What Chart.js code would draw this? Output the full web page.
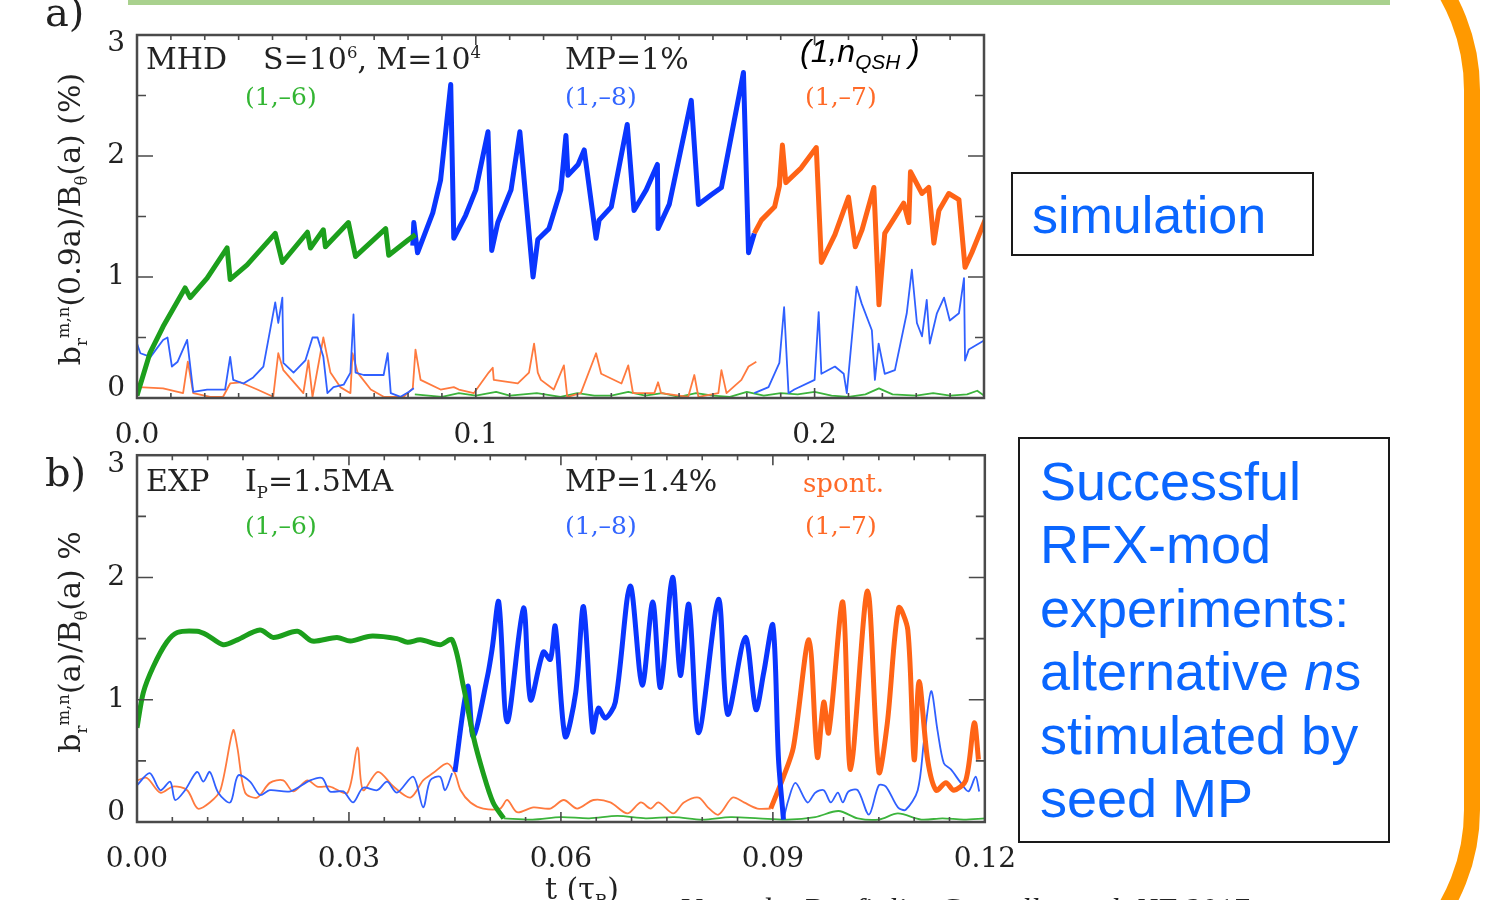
<!DOCTYPE html>
<html>
<head>
<meta charset="utf-8">
<script src="https://cdn.jsdelivr.net/npm/chart.js@4.4.1/dist/chart.umd.min.js"></script>
<style>
  html, body { margin: 0; padding: 0; background: #fff; width: 1488px; height: 900px; overflow: hidden; position: relative; }
  .t { position: absolute; white-space: nowrap; line-height: 1; font-family: 'DejaVu Serif', serif; color: #222; }
  .blk { font-size: 30px; }
  .lbl { font-size: 25px; }
  .g { color: #33b533; } .b { color: #3366ff; } .o { color: #ff6a28; }
  .ytitle { position: absolute; white-space: nowrap; line-height: 1; font-family: 'DejaVu Serif', serif; font-size: 30px; color: #222;
            transform: translate(-50%, -50%) rotate(-90deg); }
  sup, sub { font-size: 55%; line-height: 0; }
  .box { position: absolute; box-sizing: border-box; border: 2px solid #1a1a1a; background: #fff; }
  .note { position: absolute; font-family: 'Liberation Sans', Arial, sans-serif; color: #0a66ff; white-space: nowrap; }
</style>
</head>
<body>

<div style="position:absolute;left:128px;top:0;width:1262px;height:5px;background:#a9d18e"></div>
<div style="position:absolute;left:-120px;top:-110px;width:1600px;height:1120px;box-sizing:border-box;border:16px solid #ff9900;border-radius:200px"></div>

<canvas id="chartA" width="1014" height="450" style="position:absolute;left:0;top:0"></canvas>
<canvas id="chartB" width="1037" height="475" style="position:absolute;left:0;top:425px"></canvas>

<!-- panel a texts -->
<div class="t" style="left:45px;top:-8px;font-size:40px">a)</div>
<div class="ytitle" style="left:70px;top:219px">b<sub>r</sub><sup>m,n</sup>(0.9a)/B<sub>θ</sub>(a) (%)</div>
<div class="t blk" style="left:146px;top:44px">MHD</div>
<div class="t blk" style="left:263px;top:44px">S=10<sup>6</sup>, M=10<sup>4</sup></div>
<div class="t blk" style="left:565px;top:44px">MP=1%</div>
<div class="t" style="left:800px;top:35px;font-family:'Liberation Sans',sans-serif;font-style:italic;font-size:32px;color:#000">(1,n<sub style="font-size:65%">QSH</sub> )</div>
<div class="t lbl g" style="left:245px;top:84px">(1,–6)</div>
<div class="t lbl b" style="left:565px;top:84px">(1,–8)</div>
<div class="t lbl o" style="left:805px;top:84px">(1,–7)</div>

<!-- panel b texts -->
<div class="t" style="left:45px;top:452px;font-size:40px">b)</div>
<div class="ytitle" style="left:70px;top:642px">b<sub>r</sub><sup>m,n</sup>(a)/B<sub>θ</sub>(a) %</div>
<div class="t blk" style="left:146px;top:466px">EXP</div>
<div class="t blk" style="left:245px;top:466px">I<sub>P</sub>=1.5MA</div>
<div class="t blk" style="left:565px;top:466px">MP=1.4%</div>
<div class="t o" style="left:803px;top:470px;font-size:26px">spont.</div>
<div class="t lbl g" style="left:245px;top:513px">(1,–6)</div>
<div class="t lbl b" style="left:565px;top:513px">(1,–8)</div>
<div class="t lbl o" style="left:805px;top:513px">(1,–7)</div>

<div class="t" style="left:545px;top:874px;font-size:30px">t (τ<sub>R</sub>)</div>
<div class="t" style="left:680px;top:893px;font-size:32px;font-family:'Liberation Serif',serif;font-style:italic">Veranda, Bonfiglio, Cappello et al. NF 2017</div>

<!-- right-hand notes -->
<div class="box" style="left:1011px;top:172px;width:303px;height:84px"></div>
<div class="note" style="left:1032px;top:189px;font-size:52px;line-height:1">simulation</div>
<div class="box" style="left:1018px;top:437px;width:372px;height:406px"></div>
<div class="note" style="left:1040px;top:450px;font-size:54px;line-height:63.4px">Successful<br>RFX-mod<br>experiments:<br>alternative <i>n</i>s<br>stimulated by<br>seed MP</div>

<script>
'use strict';

// ── Panel a (MHD simulation), t in tau_R, amplitude in % ─────────────────────
const aGreenThickT = [0, 0.0038, 0.0077, 0.0142, 0.0157, 0.0207, 0.0266, 0.0275, 0.0325, 0.0408, 0.0429, 0.0503, 0.0512, 0.055, 0.0556, 0.0624, 0.0645, 0.0734, 0.0743, 0.0802, 0.0822];
const aGreenThickV = [0.02, 0.37, 0.59, 0.91, 0.83, 0.99, 1.24, 0.98, 1.10, 1.36, 1.12, 1.37, 1.24, 1.39, 1.25, 1.45, 1.17, 1.40, 1.18, 1.31, 1.35];

const aGreenThinT = [0.082, 0.09, 0.095, 0.1, 0.106, 0.11, 0.118, 0.125, 0.13, 0.135, 0.14, 0.145, 0.15, 0.155, 0.16, 0.165, 0.17, 0.175, 0.18, 0.185, 0.19, 0.195, 0.2, 0.205, 0.21, 0.215, 0.219, 0.223, 0.23, 0.235, 0.24, 0.245, 0.248, 0.25];
const aGreenThinV = [0.03, 0.01, 0.04, 0.02, 0.05, 0.02, 0.04, 0.01, 0.04, 0.02, 0.02, 0.05, 0.02, 0.04, 0.01, 0.04, 0.02, 0.01, 0.05, 0.02, 0.04, 0.03, 0.05, 0.02, 0.01, 0.03, 0.08, 0.03, 0.02, 0.04, 0.02, 0.03, 0.06, 0.02];

const aBlueThin1T = [0, 0.001, 0.004, 0.0077, 0.009, 0.0103, 0.012, 0.0148, 0.0166, 0.0207, 0.026, 0.0275, 0.0284, 0.0314, 0.0343, 0.0373, 0.0408, 0.0417, 0.0429, 0.0432, 0.0462, 0.0497, 0.0518, 0.0533, 0.055, 0.0562, 0.058, 0.061, 0.063, 0.0639, 0.0645, 0.0669, 0.0728, 0.074, 0.0749, 0.0778, 0.0802, 0.0817];
const aBlueThin1V = [0.45, 0.37, 0.34, 0.48, 0.5, 0.26, 0.3, 0.48, 0.05, 0.07, 0.07, 0.34, 0.15, 0.12, 0.17, 0.26, 0.79, 0.62, 0.83, 0.29, 0.21, 0.31, 0.5, 0.5, 0.34, 0.04, 0.09, 0.11, 0.21, 0.69, 0.21, 0.19, 0.19, 0.37, 0.04, 0.01, 0.05, 0.08];

const aBlueThickT = [0.0814, 0.0817, 0.0828, 0.0873, 0.0896, 0.0926, 0.0935, 0.097, 0.1, 0.1036, 0.1047, 0.1065, 0.1104, 0.113, 0.1148, 0.1169, 0.1183, 0.1216, 0.1251, 0.1266, 0.1272, 0.1302, 0.132, 0.1355, 0.1364, 0.14, 0.1447, 0.1467, 0.1503, 0.1536, 0.1538, 0.1571, 0.1636, 0.1657, 0.1695, 0.1725, 0.179, 0.1805, 0.1822];
const aBlueThickV = [1.26, 1.45, 1.2, 1.53, 1.8, 2.59, 1.32, 1.51, 1.72, 2.2, 1.22, 1.45, 1.72, 2.2, 1.64, 1.0, 1.31, 1.40, 1.72, 2.17, 1.84, 1.93, 2.05, 1.32, 1.47, 1.58, 2.26, 1.55, 1.72, 1.93, 1.40, 1.6, 2.46, 1.6, 1.68, 1.74, 2.69, 1.2, 1.36];

const aBlueThin2T = [0.1822, 0.1864, 0.1896, 0.191, 0.1923, 0.194, 0.2, 0.2012, 0.202, 0.206, 0.2086, 0.2095, 0.2124, 0.2139, 0.2169, 0.2178, 0.2189, 0.2207, 0.2237, 0.2272, 0.2287, 0.2302, 0.2317, 0.2331, 0.234, 0.2361, 0.2382, 0.2399, 0.2426, 0.2441, 0.2444, 0.2455, 0.2503];
const aBlueThin2V = [0.04, 0.09, 0.29, 0.75, 0.04, 0.07, 0.15, 0.71, 0.2, 0.26, 0.2, 0.04, 0.92, 0.78, 0.56, 0.15, 0.45, 0.2, 0.23, 0.70, 1.06, 0.62, 0.51, 0.81, 0.45, 0.70, 0.83, 0.64, 0.70, 0.99, 0.31, 0.40, 0.48];

const aOrangeThinT = [0, 0.0005, 0.0077, 0.0136, 0.015, 0.0166, 0.0216, 0.0254, 0.0275, 0.0305, 0.0355, 0.0402, 0.0417, 0.0432, 0.0491, 0.0506, 0.0518, 0.055, 0.0571, 0.06, 0.063, 0.0636, 0.0651, 0.069, 0.0728, 0.0787, 0.0814, 0.0822, 0.0837, 0.0896, 0.0935, 0.095, 0.0994, 0.1038, 0.105, 0.1053, 0.1124, 0.1157, 0.1172, 0.1183, 0.1192, 0.123, 0.126, 0.127, 0.131, 0.1355, 0.137, 0.143, 0.145, 0.1464, 0.1527, 0.1538, 0.1547, 0.1627, 0.1645, 0.1657, 0.1716, 0.1725, 0.174, 0.1784, 0.1805, 0.1828];
const aOrangeThinV = [0.15, 0.09, 0.08, 0.04, 0.3, 0.04, 0.01, 0.01, 0.12, 0.13, 0.07, 0.01, 0.37, 0.23, 0.04, 0.31, 0.01, 0.5, 0.21, 0.09, 0.04, 0.37, 0.21, 0.07, 0.01, 0.01, 0.08, 0.4, 0.15, 0.07, 0.09, 0.07, 0.04, 0.21, 0.25, 0.15, 0.12, 0.21, 0.45, 0.21, 0.15, 0.07, 0.27, 0.01, 0.04, 0.37, 0.2, 0.12, 0.27, 0.04, 0.04, 0.13, 0.04, 0.01, 0.19, 0.01, 0.04, 0.23, 0.04, 0.15, 0.26, 0.3];

const aOrangeThickT = [0.1822, 0.1843, 0.1882, 0.1896, 0.1905, 0.1915, 0.196, 0.2005, 0.202, 0.206, 0.21, 0.212, 0.214, 0.2175, 0.219, 0.2207, 0.2263, 0.2278, 0.2283, 0.2317, 0.2337, 0.2352, 0.2367, 0.2396, 0.2426, 0.2444, 0.2464, 0.2503];
const aOrangeThickV = [1.36, 1.47, 1.58, 1.75, 2.09, 1.78, 1.9, 2.07, 1.12, 1.35, 1.66, 1.25, 1.39, 1.74, 0.77, 1.36, 1.61, 1.45, 1.87, 1.69, 1.74, 1.28, 1.55, 1.69, 1.64, 1.08, 1.2, 1.47];

// ── Panel b (RFX-mod experiment), t in tau_R, amplitude in % ─────────────────
const bGreenThickT = [0, 0.0009, 0.0023, 0.0042, 0.0057, 0.0085, 0.0099, 0.0122, 0.0142, 0.0174, 0.0193, 0.0227, 0.0248, 0.0283, 0.0302, 0.033, 0.0368, 0.0383, 0.0401, 0.0429, 0.0446, 0.0462, 0.0476, 0.049, 0.0504, 0.0519];
const bGreenThickV = [0.77, 1.06, 1.27, 1.47, 1.55, 1.56, 1.53, 1.45, 1.49, 1.57, 1.51, 1.56, 1.48, 1.51, 1.48, 1.52, 1.5, 1.47, 1.49, 1.45, 1.49, 1.11, 0.7, 0.4, 0.16, 0.03];

const bGreenThinT = [0.0519, 0.056, 0.06, 0.064, 0.068, 0.072, 0.076, 0.08, 0.084, 0.088, 0.092, 0.096, 0.0993, 0.102, 0.105, 0.1077, 0.111, 0.114, 0.117, 0.12];
const bGreenThinV = [0.03, 0.02, 0.04, 0.03, 0.05, 0.03, 0.04, 0.02, 0.04, 0.03, 0.02, 0.04, 0.09, 0.03, 0.02, 0.07, 0.02, 0.03, 0.02, 0.03];

const bBlueThin1T = [0, 0.0018, 0.0033, 0.0047, 0.0054, 0.0068, 0.0085, 0.0094, 0.0103, 0.0115, 0.0132, 0.0143, 0.016, 0.0174, 0.0188, 0.0217, 0.0245, 0.0262, 0.0273, 0.0292, 0.0306, 0.032, 0.034, 0.0354, 0.0368, 0.0391, 0.0405, 0.0415, 0.0429, 0.0436, 0.0446];
const bBlueThin1V = [0.3, 0.4, 0.26, 0.33, 0.18, 0.26, 0.41, 0.33, 0.41, 0.24, 0.16, 0.38, 0.33, 0.22, 0.26, 0.25, 0.34, 0.36, 0.25, 0.25, 0.16, 0.28, 0.26, 0.33, 0.24, 0.37, 0.12, 0.34, 0.37, 0.26, 0.40];

const bBlueThickT = [0.045, 0.0468, 0.0476, 0.0496, 0.0503, 0.0512, 0.0524, 0.0547, 0.0557, 0.0575, 0.0585, 0.0592, 0.0606, 0.0621, 0.0632, 0.0645, 0.0653, 0.0663, 0.0677, 0.0698, 0.0715, 0.073, 0.0741, 0.0758, 0.0769, 0.0781, 0.0795, 0.0823, 0.0836, 0.0861, 0.0876, 0.0887, 0.09, 0.0908, 0.0915];
const bBlueThickV = [0.41, 1.11, 0.7, 1.19, 1.43, 1.8, 0.82, 1.75, 1.0, 1.39, 1.33, 1.6, 0.7, 1.06, 1.76, 0.74, 0.93, 0.85, 0.98, 1.93, 1.12, 1.8, 1.1, 2.0, 1.2, 1.78, 0.73, 1.82, 0.88, 1.51, 0.92, 1.22, 1.61, 0.51, 0.02];

const bBlueThin2T = [0.0915, 0.0922, 0.0932, 0.0949, 0.096, 0.0972, 0.0982, 0.0992, 0.0999, 0.1007, 0.102, 0.1036, 0.105, 0.106, 0.1077, 0.1088, 0.1105, 0.1114, 0.1124, 0.1133, 0.1142, 0.1152, 0.1166, 0.1177, 0.1187, 0.1192];
const bBlueThin2V = [0.02, 0.18, 0.32, 0.16, 0.24, 0.26, 0.16, 0.24, 0.16, 0.25, 0.26, 0.06, 0.3, 0.29, 0.12, 0.1, 0.26, 0.67, 1.07, 0.75, 0.48, 0.43, 0.32, 0.25, 0.37, 0.25];

const bOrangeThinT = [0, 0.0014, 0.0033, 0.0051, 0.0071, 0.0086, 0.0103, 0.0118, 0.0136, 0.0142, 0.0153, 0.017, 0.0188, 0.0207, 0.0221, 0.0241, 0.0255, 0.0273, 0.0298, 0.0312, 0.032, 0.0341, 0.0363, 0.0387, 0.0405, 0.0419, 0.0439, 0.045, 0.0458, 0.0472, 0.049, 0.0514, 0.0524, 0.0538, 0.0561, 0.0585, 0.0604, 0.0623, 0.0646, 0.067, 0.0694, 0.0713, 0.0727, 0.0738, 0.0759, 0.0774, 0.0795, 0.0808, 0.0823, 0.0843, 0.0859, 0.0878, 0.0897];
const bOrangeThinV = [0.34, 0.36, 0.24, 0.29, 0.26, 0.11, 0.16, 0.26, 0.75, 0.61, 0.24, 0.2, 0.32, 0.34, 0.25, 0.34, 0.29, 0.29, 0.24, 0.61, 0.26, 0.41, 0.29, 0.2, 0.34, 0.4, 0.48, 0.4, 0.26, 0.16, 0.11, 0.11, 0.18, 0.08, 0.12, 0.11, 0.18, 0.11, 0.18, 0.16, 0.07, 0.16, 0.11, 0.16, 0.07, 0.16, 0.2, 0.12, 0.06, 0.2, 0.16, 0.11, 0.11];

const bOrangeThickT = [0.0897, 0.0915, 0.0929, 0.0951, 0.0963, 0.0972, 0.0979, 0.0999, 0.101, 0.1034, 0.105, 0.1062, 0.1078, 0.1091, 0.11, 0.1107, 0.1119, 0.1131, 0.1145, 0.1156, 0.1173, 0.1185, 0.1191];
const bOrangeThickV = [0.11, 0.37, 0.61, 1.49, 0.53, 0.98, 0.73, 1.8, 0.43, 1.89, 0.41, 0.81, 1.75, 1.57, 0.51, 1.15, 0.51, 0.26, 0.32, 0.26, 0.34, 0.81, 0.51];

// ── Styles ────────────────────────────────────────────────────────────────────
const GREEN = '#1c9f1c', BLUE = '#0a36ff', ORANGE = '#ff6416';
const GREEN_THIN = '#3cb43c', BLUE_THIN = '#3060ff', ORANGE_THIN = '#ff7a3e';
const TICK_FONT = { family: "'DejaVu Serif', serif", size: 28, lineHeight: 0.65 };

function pts(ts, vs) {
  return ts.map((t, i) => ({ x: t, y: vs[i] }));
}

function line(ts, vs, color, width, tension = 0) {
  return { data: pts(ts, vs), borderColor: color, borderWidth: width, pointRadius: 0, tension, fill: false, borderJoinStyle: 'round' };
}

// IDL keeps the end labels inside the frame: pad them with an empty line
function yLabel(v) {
  if (v === 3) return ['', '3'];
  if (v === 0) return ['0', ''];
  return String(v);
}

// Box round the plot area with inward ticks, IDL style
const frameTicks = {
  id: 'frameTicks',
  afterDatasetsDraw(chart, args, opts) {
    const { ctx, chartArea: a, scales: { x, y } } = chart;
    ctx.save();
    ctx.strokeStyle = '#4a4a4a';
    ctx.lineWidth = 2.5;
    ctx.strokeRect(a.left, a.top, a.right - a.left, a.bottom - a.top);
    ctx.lineWidth = 1.6;
    ctx.beginPath();
    for (let k = 0; k <= 6; k++) {
      const py = y.getPixelForValue(k * 0.5);
      const len = k % 2 === 0 ? 16 : 9;
      ctx.moveTo(a.left, py); ctx.lineTo(a.left + len, py);
      ctx.moveTo(a.right, py); ctx.lineTo(a.right - len, py);
    }
    const n = Math.round(x.max / opts.minor);
    for (let i = 0; i <= n; i++) {
      const px = x.getPixelForValue(i * opts.minor);
      const len = i % opts.every === 0 ? 10 : 5;
      ctx.moveTo(px, a.bottom); ctx.lineTo(px, a.bottom - len);
      ctx.moveTo(px, a.top); ctx.lineTo(px, a.top + len);
    }
    ctx.stroke();
    ctx.restore();
  }
};

function makePanel(id, datasets, xMax, xStep, xDec, padTop, xHeight, minor, every) {
  return new Chart(document.getElementById(id), {
    type: 'line',
    data: { datasets },
    plugins: [frameTicks],
    options: {
      responsive: false,
      animation: false,
      events: [],
      layout: { padding: { left: 0, right: 30, top: padTop, bottom: 0 } },
      plugins: { legend: { display: false }, tooltip: { enabled: false }, frameTicks: { minor, every } },
      scales: {
        x: {
          type: 'linear', min: 0, max: xMax,
          grid: { display: false, drawTicks: false }, border: { display: false },
          ticks: {
            stepSize: xStep, padding: 21, color: '#222', font: { ...TICK_FONT, lineHeight: 1.2 }, maxRotation: 0, autoSkip: false,
            callback: v => Math.abs(v / xStep - Math.round(v / xStep)) < 1e-6 ? v.toFixed(xDec) : ''
          },
          afterFit: s => { s.height = xHeight; }
        },
        y: {
          min: 0, max: 3,
          grid: { display: false, drawTicks: false }, border: { display: false },
          ticks: { stepSize: 1, padding: 12, color: '#222', font: TICK_FONT, callback: yLabel },
          afterFit: s => { s.width = 137; }
        }
      }
    }
  });
}

makePanel('chartA', [
  line(aGreenThickT, aGreenThickV, GREEN, 5),
  line(aBlueThickT, aBlueThickV, BLUE, 5),
  line(aOrangeThickT, aOrangeThickV, ORANGE, 5),
  line(aBlueThin1T, aBlueThin1V, BLUE_THIN, 1.8),
  line(aBlueThin2T, aBlueThin2V, BLUE_THIN, 1.8),
  line(aOrangeThinT, aOrangeThinV, ORANGE_THIN, 1.8),
  line(aGreenThinT, aGreenThinV, GREEN_THIN, 1.8)
], 0.25, 0.1, 1, 35, 52, 0.01, 10);

makePanel('chartB', [
  line(bGreenThickT, bGreenThickV, GREEN, 5, 0.3),
  line(bBlueThickT, bBlueThickV, BLUE, 5, 0.3),
  line(bOrangeThickT, bOrangeThickV, ORANGE, 5, 0.3),
  line(bBlueThin1T, bBlueThin1V, BLUE_THIN, 1.8, 0.3),
  line(bBlueThin2T, bBlueThin2V, BLUE_THIN, 1.8, 0.3),
  line(bOrangeThinT, bOrangeThinV, ORANGE_THIN, 1.8, 0.3),
  line(bGreenThinT, bGreenThinV, GREEN_THIN, 1.8, 0.3)
], 0.12, 0.03, 2, 30, 78, 0.005, 6);
</script>
</body>
</html>
